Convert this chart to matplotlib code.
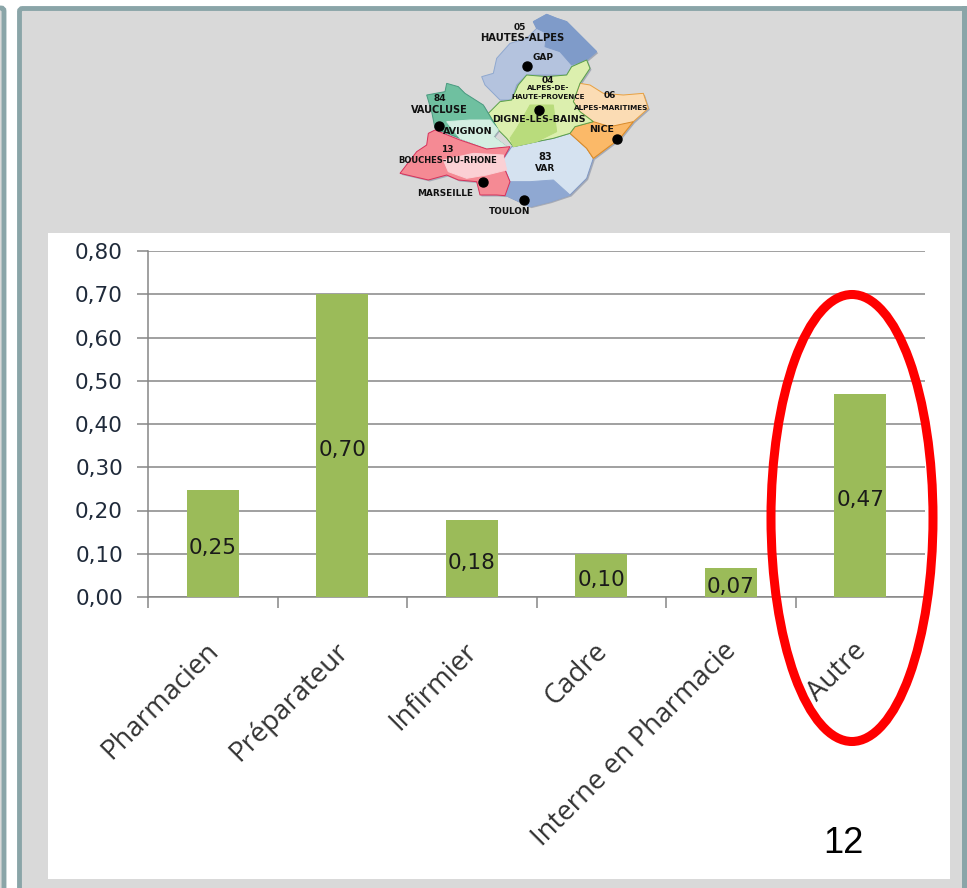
import matplotlib.pyplot as plt
from matplotlib.patches import Ellipse, FancyBboxPatch, Polygon, Rectangle

W, H = 967, 888

categories = ["Pharmacien", "Préparateur", "Infirmier", "Cadre", "Interne en Pharmacie", "Autre"]
values = [0.247, 0.70, 0.178, 0.10, 0.067, 0.47]
value_labels = ["0,25", "0,70", "0,18", "0,10", "0,07", "0,47"]
y_ticks = [0.0, 0.1, 0.2, 0.3, 0.4, 0.5, 0.6, 0.7, 0.8]

# map outlines, traced on the 3x zoom of the logo
hautes_alpes = [(430, 50), (470, 28), (500, 40), (530, 50), (570, 90), (620, 140), (590, 165), (545, 185),
                (530, 210), (460, 210), (410, 210), (380, 240), (365, 285), (330, 285), (285, 240), (275, 215),
                (310, 205), (320, 160), (360, 115), (410, 100), (440, 70)]
hautes_alpes_dark = [(430, 50), (470, 28), (500, 40), (530, 50), (570, 90), (620, 140), (590, 165), (545, 180),
                     (510, 140), (465, 125), (470, 85), (440, 70)]
alpes_hp = [(410, 210), (470, 215), (530, 210), (545, 185), (590, 165), (600, 190), (570, 235), (550, 290),
            (570, 320), (610, 350), (555, 365), (540, 385), (490, 400), (440, 410), (370, 425), (350, 400),
            (325, 375), (295, 325), (330, 290), (365, 285), (385, 240)]
alpes_hp_dark = [(380, 370), (420, 300), (490, 300), (500, 380), (440, 410), (370, 425), (360, 400)]
alpes_mar = [(570, 235), (600, 240), (640, 265), (700, 270), (760, 265), (775, 310), (730, 350), (690, 400),
             (650, 430), (610, 460), (590, 430), (540, 385), (555, 365), (610, 350), (570, 320), (550, 290)]
nice_area = [(555, 365), (610, 350), (660, 365), (730, 350), (690, 400), (650, 430), (610, 460), (590, 430),
             (540, 385)]
var = [(370, 425), (440, 410), (490, 400), (540, 385), (590, 430), (610, 460), (590, 520), (540, 570), (480, 590),
       (420, 605), (345, 570), (360, 530), (335, 470), (365, 425)]
var_dark = [(360, 530), (420, 530), (490, 525), (540, 570), (480, 590), (420, 605), (345, 570)]
vaucluse = [(110, 270), (165, 260), (170, 235), (205, 245), (225, 265), (280, 300), (295, 325), (325, 375),
            (310, 395), (350, 425), (290, 430), (210, 400), (135, 370), (125, 320)]
vaucluse_light = [(170, 350), (240, 345), (300, 345), (325, 375), (310, 395), (350, 425), (290, 430), (210, 400)]
bouches = [(135, 375), (210, 405), (290, 432), (360, 425), (335, 470), (360, 530), (345, 572), (320, 570),
           (270, 570), (260, 530), (205, 525), (170, 510), (115, 525), (30, 505), (80, 440), (110, 420), (115, 385)]
bouches_light = [(160, 465), (250, 445), (340, 450), (350, 495), (290, 510), (230, 520), (175, 500)]

regions = [
    (hautes_alpes, "#b4c3de", "#8fa8cf"),
    (hautes_alpes_dark, "#7f9bc9", "#7f9bc9"),
    (var, "#d5e2f0", "#7f97c4"),
    (var_dark, "#8fa8d2", "#8fa8d2"),
    (alpes_mar, "#fbdcb4", "#e8a040"),
    (nice_area, "#fbb968", "#d88a2a"),
    (alpes_hp, "#dcefae", "#5aa04a"),
    (alpes_hp_dark, "#b9dc7c", "#b9dc7c"),
    (vaucluse, "#6fc0a0", "#4a9a80"),
    (vaucluse_light, "#d4eee2", "#d4eee2"),
    (bouches, "#f58a94", "#d8305a"),
    (bouches_light, "#fbd0d4", "#fbd0d4"),
]

# label, x, y, size, in zoom coordinates
map_labels = [
    ("05", 388, 68, 6.5), ("HAUTES-ALPES", 396, 100, 7.2), ("GAP", 458, 158, 6.5),
    ("04", 474, 226, 6.5), ("ALPES-DE-", 474, 250, 5.2), ("HAUTE-PROVENCE", 474, 276, 5.2),
    ("DIGNE-LES-BAINS", 446, 344, 6.8), ("06", 660, 272, 6.5), ("ALPES-MARITIMES", 664, 308, 5.2),
    ("NICE", 636, 372, 6.8), ("84", 150, 280, 6.5), ("VAUCLUSE", 148, 314, 7),
    ("AVIGNON", 232, 380, 6.8), ("13", 172, 432, 6.5), ("BOUCHES-DU-RHONE", 174, 466, 6),
    ("83", 466, 456, 7), ("VAR", 466, 490, 6.5), ("MARSEILLE", 166, 566, 6.4), ("TOULON", 358, 620, 6.4),
]
map_cities = [(410, 183), (448, 314), (147, 364), (680, 402), (279, 531), (402, 586)]


def zoom_xy(points):
    return [(390 + x / 3, 5 + y / 3) for x, y in points]


plt.rcParams["font.family"] = ["DejaVu Sans"]

fig = plt.figure(figsize=(W / 100, H / 100), dpi=100, facecolor="white")

# page background, pixel coordinates
bg = fig.add_axes([0, 0, 1, 1])
bg.set_xlim(0, W)
bg.set_ylim(H, 0)
bg.axis("off")

border = "#8aa5a8"
bg.add_patch(FancyBboxPatch((-20, 8), 24, H + 20, boxstyle="round,pad=0,rounding_size=3",
                            fc="#d9d9d9", ec=border, lw=3.5))
bg.add_patch(FancyBboxPatch((19.5, 8.5), W + 20, H + 20, boxstyle="round,pad=0,rounding_size=3",
                            fc="#d9d9d9", ec=border, lw=3.5))
bg.add_patch(Rectangle((962, 6), 5, H, fc=border, ec="none"))
bg.add_patch(Rectangle((48, 233), 902, 646, fc="white", ec="none"))

# map logo
for pts, fc, ec in regions[:1] + regions[2:3] + regions[4:5] + regions[6:7] + regions[8:9] + regions[10:11]:
    shadow = [(x + 1.5, y + 1.5) for x, y in zoom_xy(pts)]
    bg.add_patch(Polygon(shadow, fc="#8f97a8", ec="none", alpha=0.7))
for pts, fc, ec in regions:
    bg.add_patch(Polygon(zoom_xy(pts), fc=fc, ec=ec, lw=0.7))
city_xy = zoom_xy(map_cities)
bg.plot([p[0] for p in city_xy], [p[1] for p in city_xy], "o", color="black", ms=6.5, ls="none")
for label, x, y, size in map_labels:
    px, py = zoom_xy([(x, y)])[0]
    bg.text(px, py, label, fontsize=size, fontweight="bold", ha="center", va="center", color="#111111")

# bar chart
ax = fig.add_axes([148 / W, 1 - 597 / H, (925 - 148) / W, (597 - 251) / H])
ax.patch.set_alpha(0)
x = list(range(len(categories)))
bars = ax.bar(x, values, width=0.4, color="#9bbb59", zorder=3)
for i, label in enumerate(value_labels):
    ax.annotate(label, xy=(i, values[i] / 2), xytext=(0, -3), textcoords="offset points", ha="center", va="center",
                fontsize=15.5, color="#1a1a1a", zorder=4)

ax.set_xlim(-0.5, 5.5)
ax.set_ylim(0, 0.8)
ax.set_yticks(y_ticks)
ax.set_yticklabels([f"{t:.2f}".replace(".", ",") for t in y_ticks], fontsize=15.5, color="#1f2a3a")
ax.set_xticks([i - 0.5 for i in range(len(categories) + 1)])
ax.set_xticklabels([])
ax.tick_params(axis="both", length=8, width=1.1, color="#868686")
ax.tick_params(axis="y", pad=10)
ax.yaxis.grid(color="#868686", linewidth=1.1, zorder=0)
ax.set_axisbelow(True)
for side in ["top", "right"]:
    ax.spines[side].set_visible(False)
for side in ["left", "bottom"]:
    ax.spines[side].set_color("#868686")
    ax.spines[side].set_linewidth(1.1)

for i, name in enumerate(categories):
    ax.annotate(name, xy=(i, 0), xytext=(-6, -29), textcoords="offset points", rotation=45,
                rotation_mode="anchor", ha="right", va="top", fontsize=19.8, color="#333333",
                family=["Open Sans"])

# red circle and page number on top
top = fig.add_axes([0, 0, 1, 1])
top.set_xlim(0, W)
top.set_ylim(H, 0)
top.axis("off")
top.add_patch(Ellipse((852, 518), 162, 447, fc="none", ec="#ff0000", lw=6.5))
top.text(843, 843, "12", fontsize=26, ha="center", va="center", family=["Liberation Sans"], color="black")

plt.savefig("out.png", dpi=100)
plt.close()
